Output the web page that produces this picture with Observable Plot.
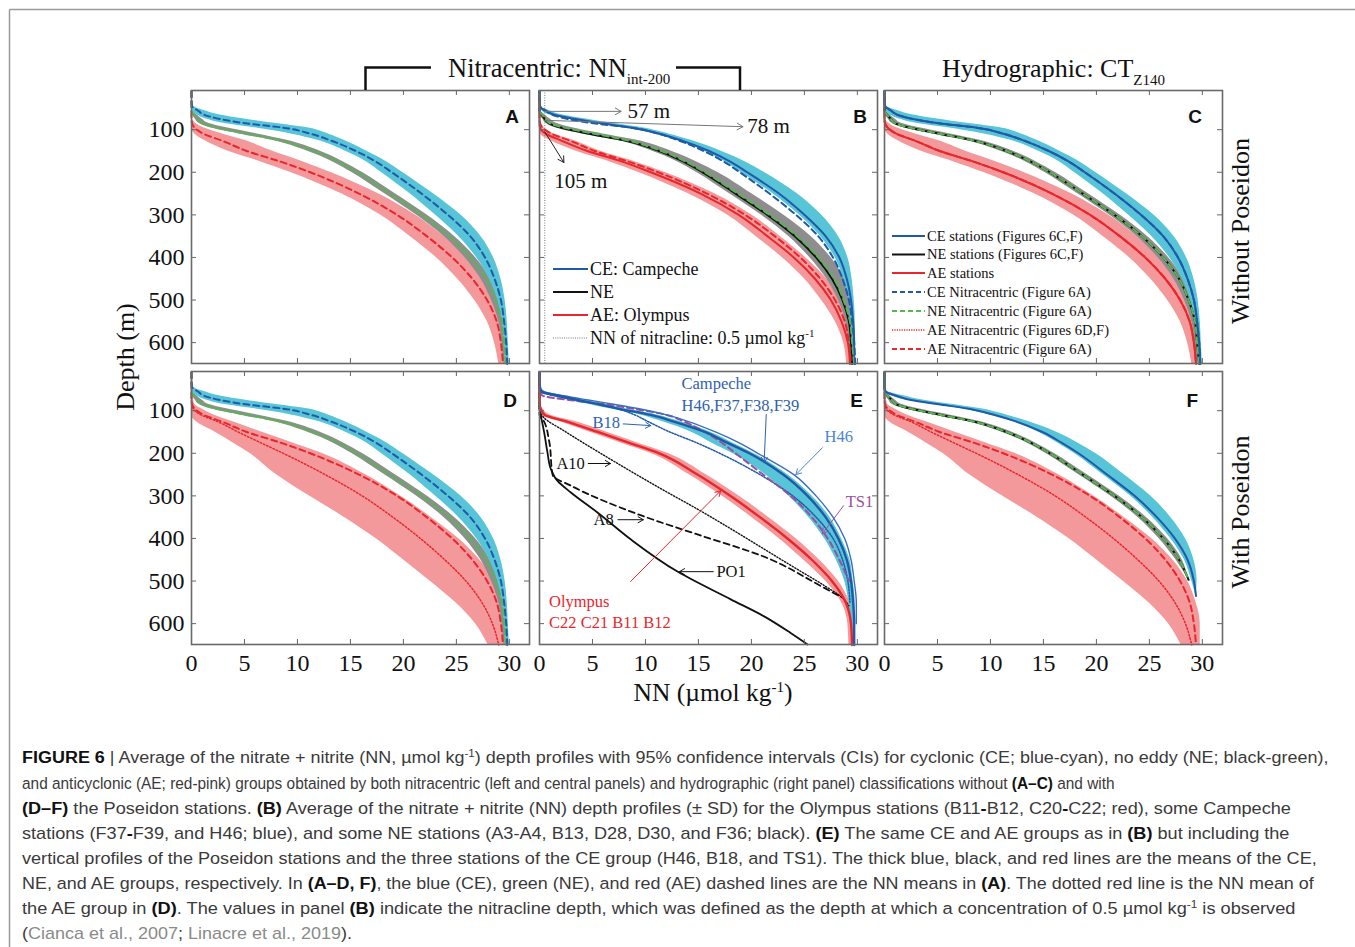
<!DOCTYPE html>
<html><head><meta charset="utf-8">
<script src="https://cdn.jsdelivr.net/npm/d3@7"></script>
<script src="https://cdn.jsdelivr.net/npm/@observablehq/plot@0.6"></script>
<style>
html,body{margin:0;padding:0;background:#fff;}
#root{position:relative;width:1355px;height:947px;overflow:hidden;background:#fff;}
#overlay{position:absolute;left:0;top:0;pointer-events:none;}
</style></head>
<body><div id="root"></div>
<script>
// ---------------- DATA ----------------
const Z = [10,30,45,55,65,75,85,95,110,125,150,175,200,250,300,350,400,450,500,550,600,650];
const xTicks = [0,5,10,15,20,25,30];
const yTicks = [100,200,300,400,500,600];

// Nitracentric means without Poseidon (A; same groups in C), with 95% CI
const ceA   = [0,0,0.06,0.6,1.2,2.7,5.1,8.6,11.3,13.1,15.5,17.4,18.9,21.7,24.2,26.3,27.7,28.6,29.2,29.5,29.7,29.8];
const ceAlo = [0,0,0,0.1,0.5,1.4,3.0,5.8,9.4,11.9,14.5,16.5,17.9,20.6,23.0,25.2,26.9,28.1,28.9,29.3,29.5,29.6];
const ceAhi = [0,0,0.2,1.2,2.6,5.0,7.8,10.8,12.9,14.4,16.5,18.4,19.9,22.8,25.4,27.3,28.5,29.2,29.6,29.8,29.9,30.0];
const neA   = [0,0,0,0,0.26,0.6,1.0,2.3,5.3,8.3,11.5,13.8,15.6,18.7,21.7,24.3,26.3,27.8,28.7,29.3,29.5,29.7];
const neAlo = [0,0,0,0,0.1,0.35,0.7,1.7,4.5,7.6,10.9,13.3,15.1,18.2,21.2,23.8,25.8,27.3,28.3,29.0,29.3,29.5];
const neAhi = [0,0,0,0.05,0.5,1.0,1.6,3.2,6.2,9.0,12.1,14.3,16.1,19.2,22.2,24.8,26.8,28.2,29.0,29.5,29.7,29.8];
const aeA   = [0,0,0,0,0,0,0.05,0.28,1.16,2.8,5.2,8.4,11.2,15.8,19.4,22.2,24.6,26.5,27.9,28.8,29.2,29.4];
const aeAlo = [0,0,0,0,0,0,0,0,0.3,1.2,3.4,6.5,9.3,14.1,17.8,20.6,23.1,25.1,26.7,27.9,28.6,29.0];
const aeAhi = [0,0,0,0,0,0.1,0.4,1.1,2.9,5.0,7.6,10.5,13.1,17.6,21.1,23.8,26.1,27.8,28.9,29.5,29.8,29.9];

// Panel B: Campeche / NE / Olympus (± SD)
const ceB   = [0,0,0.05,0.5,1.4,3.4,5.8,8.6,11.4,13.4,16.0,18.0,19.6,22.6,25.0,27.0,28.3,29.0,29.4,29.6,29.7,29.7];
const ceBlo = [0,0,0,0.2,0.9,2.7,5.0,7.9,10.8,12.9,15.5,17.5,19.0,22.0,24.5,26.5,27.9,28.7,29.2,29.4,29.5,29.5];
const ceBhi = [0,0,0.1,0.9,2.1,4.4,6.9,9.6,12.2,14.3,17.1,19.4,21.2,24.3,26.6,28.2,29.1,29.5,29.7,29.8,29.8,29.8];
const neB   = [0,0,0,0,0.2,0.5,0.9,2.0,4.8,8.0,11.3,13.6,15.4,18.5,21.5,24.1,26.1,27.6,28.6,29.2,29.4,29.5];
const neBlo = [0,0,0,0,0.05,0.3,0.6,1.4,4.0,7.3,10.6,13.0,14.8,17.9,20.9,23.5,25.5,27.1,28.2,28.9,29.2,29.3];
const neBhi = [0,0,0,0.1,0.5,1.0,1.6,3.0,6.0,9.2,12.4,14.8,16.8,20.0,23.0,25.6,27.5,28.8,29.4,29.7,29.8,29.8];
const aeB   = [0,0,0,0,0,0,0,0.05,0.6,2.0,4.5,7.8,10.5,15.2,18.8,21.5,24.0,26.0,27.5,28.5,29.1,29.3];
const aeBlo = [0,0,0,0,0,0,0,0,0.1,1.0,3.4,6.6,9.3,14.0,17.7,20.4,22.9,25.0,26.6,27.9,28.7,29.0];
const aeBhi = [0,0,0,0,0,0,0.1,0.4,1.4,3.2,5.7,9.0,11.8,16.5,20.0,22.7,25.1,27.1,28.4,29.2,29.5,29.6];
const nitraclineNN = 0.5;
const nitraclineDepths = [57, 78, 105];
const nitraclineLabels = ["57 m", "78 m", "105 m"];

// Panel D / F: AE with Poseidon
const aeD   = [0,0,0,0,0,0,0.05,0.15,0.9,2.4,4.4,6.5,8.65,12.6,16.1,19.0,21.6,23.9,25.9,27.4,28.4,29.0];
const aeDlo = [0,0,0,0,0,0,0,0,0,0.4,2.2,3.9,5.5,8.0,11.1,14.4,17.4,20.0,22.5,24.9,26.8,28.0];
const aeDhi = [0,0,0,0,0.1,0.2,0.3,0.9,2.1,3.8,6.6,9.5,12.3,16.4,19.7,22.6,25.2,27.2,28.6,29.4,29.8,29.8];

// Panel F: hydrographic CE / NE with Poseidon
const ZF_ce  = [10,30,45,55,65,75,85,95,110,125,150,175,200,250,300,350,400,450,500,535];
const ceF    = [0,0,0,0.1,1.1,2.5,5.1,7.8,10.4,12.4,14.9,16.7,18.3,21.0,23.6,25.7,27.4,28.6,29.2,29.4];
const ceFlo  = [0,0,0,0,0.6,2.0,4.5,7.2,9.9,12.0,14.5,16.3,17.9,20.6,23.2,25.3,27.0,28.3,29.0,29.4];
const ceFhi  = [0,0,0,0.3,1.8,3.6,6.3,9.0,11.5,13.5,16.2,18.2,19.9,22.6,25.1,27.0,28.4,29.2,29.5,29.4];
const ZF_ne  = [10,30,45,55,65,75,85,95,110,125,150,175,200,250,300,350,400,450,497];
const neF    = [0,0,0,0.05,0.3,0.7,1.1,2.4,5.3,8.3,11.5,13.8,15.6,18.7,21.7,24.3,26.3,27.8,28.7];
const neFlo  = [0,0,0,0,0.1,0.4,0.7,1.8,4.6,7.7,11.0,13.4,15.2,18.3,21.3,23.9,25.9,27.5,28.7];
const neFhi  = [0,0,0,0.1,0.5,1.0,1.6,3.1,6.1,8.9,12.0,14.2,16.0,19.1,22.1,24.7,26.7,28.1,28.7];

// Panel E: CE and AE groups incl. Poseidon + individual stations
const ceE   = [0,0,0.05,0.2,1.8,3.6,5.6,7.4,10.5,12.6,15.6,17.7,19.8,23.0,25.3,27.0,28.2,29.0,29.4,29.6,29.7,29.7];
const ceElo = [0,0,0,0.05,1.0,2.6,4.6,6.5,9.5,11.5,14.3,16.2,18.2,21.3,23.5,25.4,26.9,28.0,28.8,29.2,29.4,29.5];
const ceEhi = [0,0,0.1,0.5,2.3,4.2,6.2,8.0,11.1,13.2,16.1,18.2,20.2,23.4,25.7,27.4,28.5,29.3,29.6,29.8,29.8,29.8];
const aeE   = [0,0,0,0,0,0,0,0.1,0.5,2.5,5.5,8.4,11.3,14.9,18.0,20.8,23.4,25.7,27.6,28.9,29.4,29.5];
const aeElo = [0,0,0,0,0,0,0,0,0.15,1.8,4.7,7.6,10.5,14.1,17.2,20.0,22.6,24.9,27.0,28.5,29.1,29.2];
const aeEhi = [0,0,0,0,0,0,0.05,0.3,1.0,3.3,6.3,9.2,12.1,15.7,18.8,21.6,24.2,26.4,28.2,29.3,29.7,29.8];
const h46   = [0,0,0.05,0.4,2.3,4.6,7.0,9.3,12.0,14.0,16.6,18.8,20.6,24.0,26.1,27.7,28.8,29.4,29.7,29.9,29.9,null];
const b18   = [0,0,0,0,1.5,3.5,5.5,7.3,9.0,10.2,12.3,14.8,17.0,20.8,23.9,26.1,27.7,28.6,29.1,29.3,null,null];
const ts1   = [0,0,0,0,0.3,2.8,6.2,8.7,12.0,13.6,15.6,17.2,18.5,21.1,23.7,25.7,27.2,28.3,29.2,null,null,null];
const a10Z  = [10,95,116,147,214,288,331,378,425,472,511,542,558];
const a10   = [0,0,0.4,2.3,6.7,11.8,14.9,18.1,21.2,24.3,26.9,28.7,29.2];
const a8Z   = [10,110,124,170,252,276,346,393,440,511,534];
const a8    = [0,0,0.4,0.9,1.25,2.95,9.6,15.2,20.9,26.5,28.2];
const po1Z  = [10,96,112,151,198,237,265,292,339,402,479,543,583,622,649];
const po1   = [0,0,0.13,0.44,0.75,1.07,1.7,2.96,5.47,8.6,13.1,18.05,21.2,23.7,25.3];

// Panel E annotations (NN, depth)
const eLabels = [
  {x:13.4, y:37,  text:"Campeche",        c:"blue"},
  {x:13.4, y:88,  text:"H46,F37,F38,F39", c:"blue"},
  {x:5.0,  y:128, text:"B18",             c:"blue"},
  {x:26.9, y:161, text:"H46",             c:"lblue"},
  {x:28.9, y:314, text:"TS1",             c:"purple"},
  {x:1.6,  y:224, text:"A10",             c:"black"},
  {x:5.1,  y:356, text:"A8",              c:"black"},
  {x:16.7, y:478, text:"PO1",             c:"black"},
  {x:0.9,  y:548, text:"Olympus",         c:"red"},
  {x:0.9,  y:598, text:"C22 C21 B11 B12", c:"red"}
];
const eArrows = [
  {x1:21.4, y1:109, x2:21.2, y2:222, c:"blue"},
  {x1:7.9,  y1:131, x2:10.5, y2:135, c:"blue"},
  {x1:26.7, y1:187, x2:24.2, y2:250, c:"lblue"},
  {x1:28.7, y1:323, x2:26.7, y2:389, c:"purple"},
  {x1:4.6,  y1:224, x2:6.7,  y2:224, c:"black"},
  {x1:7.4,  y1:356, x2:9.8,  y2:356, c:"black"},
  {x1:16.4, y1:478, x2:13.2, y2:478, c:"black"},
  {x1:8.6,  y1:501, x2:17.1, y2:288, c:"red"}
];
const bArrowEnds = [{x:7.7, y:57}, {x:19.2, y:93}, {x:2.3, y:177}];
const bLabelPos  = [{x:8.3, y:57}, {x:19.6, y:93}, {x:3.9, y:220}];

// ---------------- STYLE ----------------
const COL = {cyan:"#57C4D8", blue:"#1F5AA8", gray:"#8E8E8E", black:"#111", green:"#58B650",
             pink:"#F4999B", red:"#E8262C", purple:"#9B4FA0", lblue:"#4A86CF", lbl:"#2F62B0"};
const SERIF = "'Liberation Serif','Times New Roman',serif";
const FW = 338, FH = 273;
const XDOM = [0, 31.9], YDOM = [8, 649];
const DASH = "6,4", DOT = "1.5,2";

const band = (lo, hi, z = Z) => z.map((d, i) => ({z: d, lo: lo[i], hi: hi[i]})).filter(d => d.lo != null && d.hi != null);
const prof = (v, z = Z) => z.map((d, i) => ({z: d, nn: v[i]})).filter(d => d.nn != null);
const area = (lo, hi, fill, z) => Plot.areaX(band(lo, hi, z), {y: "z", x1: "lo", x2: "hi", fill, curve: "monotone-y"});
const line = (v, stroke, opts = {}, z) => Plot.line(prof(v, z), {x: "nn", y: "z", stroke, strokeWidth: 2, curve: "monotone-y", ...opts});

const root = document.getElementById("root");

function panel(fx, fy, marks, {left = false, bottom = false} = {}) {
  const ML = left ? 80 : 2, MB = bottom ? 45 : 2, MT = 2, MR = 2;
  const axes = [];
  if (left) axes.push(Plot.axisY(yTicks, {anchor: "left", tickSize: 0, tickPadding: 7, label: null}));
  if (bottom) axes.push(Plot.axisX(xTicks, {anchor: "bottom", tickSize: 0, tickPadding: 9, label: null}));
  const svg = Plot.plot({
    width: FW + ML + MR, height: FH + MT + MB,
    marginLeft: ML, marginRight: MR, marginTop: MT, marginBottom: MB,
    x: bottom ? {domain: XDOM} : {domain: XDOM, axis: null},
    y: left ? {domain: YDOM, reverse: true} : {domain: YDOM, reverse: true, axis: null},
    style: {background: "transparent", overflow: "visible", fontFamily: SERIF, fontSize: "24px", color: "#111"},
    marks: [
      ...marks,
      Plot.tickX(xTicks, {x: d => d, insetTop: FH - 5, stroke: "#666"}),
      Plot.tickX(xTicks, {x: d => d, insetBottom: FH - 5, stroke: "#666"}),
      Plot.tickY(yTicks, {y: d => d, insetRight: FW - 5, stroke: "#666"}),
      Plot.tickY(yTicks, {y: d => d, insetLeft: FW - 5, stroke: "#666"}),
      Plot.frame({stroke: "#6a6a6a", strokeWidth: 1.6}),
      ...axes
    ]
  });
  svg.style.position = "absolute";
  svg.style.left = (fx - ML) + "px";
  svg.style.top = (fy - MT) + "px";
  root.appendChild(svg);
}

const ROW1 = 90, ROW2 = 370.5, COLA = 190.5, COLB = 538.5, COLC = 884;

// A
panel(COLA, ROW1, [
  area(aeAlo, aeAhi, COL.pink), area(neAlo, neAhi, COL.gray), area(ceAlo, ceAhi, COL.cyan),
  line(aeA, COL.red, {strokeDasharray: DASH}), line(neA, COL.green, {strokeDasharray: DASH}), line(ceA, COL.blue, {strokeDasharray: DASH})
], {left: true});

// B
const bIdx = [0, 1, 2];
panel(COLB, ROW1, [
  area(aeBlo, aeBhi, COL.pink), area(neBlo, neBhi, COL.gray), area(ceBlo, ceBhi, COL.cyan),
  Plot.ruleX([nitraclineNN], {stroke: "#777", strokeWidth: 1, strokeDasharray: "1,1.5"}),
  line(aeB, COL.red), line(neB, COL.black), line(ceB, COL.blue),
  line(aeA, COL.red, {strokeDasharray: DASH}), line(neA, COL.green, {strokeDasharray: DASH}), line(ceA, COL.blue, {strokeDasharray: DASH}),
  Plot.arrow(bIdx, {x1: () => nitraclineNN, y1: i => nitraclineDepths[i], x2: i => bArrowEnds[i].x, y2: i => bArrowEnds[i].y,
    stroke: i => i === 2 ? "#222" : "#777", strokeWidth: 1, headLength: 10}),
  Plot.text([0, 1], {x: i => bLabelPos[i].x, y: i => bLabelPos[i].y, text: i => nitraclineLabels[i],
    textAnchor: "start", fontSize: 21, fontFamily: SERIF, fill: "#111"}),
  Plot.text([2], {x: i => bLabelPos[i].x, y: i => bLabelPos[i].y, text: i => nitraclineLabels[i],
    textAnchor: "middle", fontSize: 21, fontFamily: SERIF, fill: "#111"})
]);

// C
panel(COLC, ROW1, [
  area(aeAlo, aeAhi, COL.pink), area(neAlo, neAhi, COL.gray), area(ceAlo, ceAhi, COL.cyan),
  line(aeA, COL.red), line(neA, COL.black), line(ceA, COL.blue),
  line(aeA, COL.red, {strokeDasharray: DASH}), line(neA, COL.green, {strokeDasharray: DASH}), line(ceA, COL.blue, {strokeDasharray: DASH})
]);

// D
panel(COLA, ROW2, [
  area(aeDlo, aeDhi, COL.pink), area(neAlo, neAhi, COL.gray), area(ceAlo, ceAhi, COL.cyan),
  line(aeD, COL.red, {strokeDasharray: DOT, strokeWidth: 1.5}),
  line(aeA, COL.red, {strokeDasharray: DASH}), line(neA, COL.green, {strokeDasharray: DASH}), line(ceA, COL.blue, {strokeDasharray: DASH})
], {left: true, bottom: true});

// E
const colOf = k => k === "blue" ? COL.lbl : k === "lblue" ? COL.lblue : k === "purple" ? COL.purple : k === "red" ? COL.red : "#111";
panel(COLB, ROW2, [
  area(aeElo, aeEhi, COL.pink), area(ceElo, ceEhi, COL.cyan),
  line(a10, "#111", {strokeDasharray: "1.2,1.8", strokeWidth: 1.4}, a10Z),
  line(a8, "#111", {strokeDasharray: DASH, strokeWidth: 1.8}, a8Z),
  line(po1, "#111", {strokeWidth: 1.8}, po1Z),
  line(b18, COL.blue, {strokeDasharray: "1.5,1.5", strokeWidth: 1.5}),
  line(ts1, COL.purple, {strokeDasharray: DASH, strokeWidth: 2}),
  line(h46, "#3A6FC0", {strokeWidth: 1.4}),
  line(aeE, COL.red, {strokeWidth: 2.4}),
  line(ceE, COL.blue, {strokeWidth: 2.4}),
  Plot.arrow(eArrows, {x1: "x1", y1: "y1", x2: "x2", y2: "y2", stroke: d => colOf(d.c), strokeWidth: 1, headLength: 9}),
  Plot.text(eLabels, {x: "x", y: "y", text: "text", fill: d => colOf(d.c), textAnchor: "start", fontSize: 16.5, fontFamily: SERIF})
], {bottom: true});

// F
panel(COLC, ROW2, [
  area(aeDlo, aeDhi, COL.pink), area(neFlo, neFhi, COL.gray, ZF_ne), area(ceFlo, ceFhi, COL.cyan, ZF_ce),
  line(aeD, COL.red, {strokeDasharray: DOT, strokeWidth: 1.5}),
  line(aeA, COL.red, {strokeDasharray: DASH}),
  line(neF, COL.black, {}, ZF_ne), line(neF, COL.green, {strokeDasharray: DASH}, ZF_ne),
  line(ceF, COL.blue, {}, ZF_ce)
], {bottom: true});

// ---------------- OVERLAY TEXT ----------------
const ns = "http://www.w3.org/2000/svg";
const ov = document.createElementNS(ns, "svg");
ov.setAttribute("id", "overlay"); ov.setAttribute("width", 1355); ov.setAttribute("height", 947);
const serifT = `font-family="Liberation Serif, Times New Roman, serif" fill="#111"`;
const sans = `font-family="Liberation Sans, Arial, sans-serif"`;

function legendRows(x0, x1, tx, rows, fs) {
  return rows.map(r => `<line x1="${x0}" x2="${x1}" y1="${r.y}" y2="${r.y}" stroke="${r.c}" stroke-width="${r.w || 2}" ${r.d ? `stroke-dasharray="${r.d}"` : ""}/>
    <text x="${tx}" y="${r.y + fs * 0.33}" font-size="${fs}" ${serifT}>${r.t}</text>`).join("");
}
const legB = legendRows(553, 588, 590, [
  {y: 269, c: COL.blue, t: "CE: Campeche"},
  {y: 292, c: "#111", t: "NE"},
  {y: 315, c: COL.red, t: "AE: Olympus"},
  {y: 338, c: "#777", w: 1.2, d: "1,1.2", t: `NN of nitracline: 0.5 µmol kg<tspan dy="-7" font-size="11">-1</tspan>`}
], 18);
const legC = legendRows(892, 925, 927, [
  {y: 236, c: COL.blue, t: "CE stations (Figures 6C,F)"},
  {y: 254.5, c: "#111", t: "NE stations (Figures 6C,F)"},
  {y: 273, c: COL.red, t: "AE stations"},
  {y: 292, c: COL.blue, d: "5,3", t: "CE Nitracentric (Figure 6A)"},
  {y: 311, c: COL.green, d: "5,3", t: "NE Nitracentric (Figure 6A)"},
  {y: 330, c: COL.red, w: 1.5, d: "1.2,1.2", t: "AE Nitracentric (Figures 6D,F)"},
  {y: 349, c: COL.red, d: "5,3", t: "AE Nitracentric (Figure 6A)"}
], 14.5);

const letters = [["A",519,123],["B",867,123],["C",1202,123],["D",517,407],["E",863,407],["F",1198,407]]
  .map(([t,x,y]) => `<text x="${x}" y="${y}" text-anchor="end" font-size="19" font-weight="bold" ${sans} fill="#111">${t}</text>`).join("");

const B = t => `<tspan font-weight="bold" fill="#111">${t}</tspan>`;
const capLines = [
  `${B("FIGURE 6")} | Average of the nitrate + nitrite (NN, µmol kg<tspan dy="-6" font-size="11">-1</tspan><tspan dy="6">) depth profiles with 95% confidence intervals (CIs) for cyclonic (CE; blue-cyan), no eddy (NE; black-green),</tspan>`,
  `and anticyclonic (AE; red-pink) groups obtained by both nitracentric (left and central panels) and hydrographic (right panel) classifications without ${B("(A–C)")} and with`,
  `${B("(D–F)")} the Poseidon stations. ${B("(B)")} Average of the nitrate + nitrite (NN) depth profiles (± SD) for the Olympus stations (B11${B("-")}B12, C20${B("-")}C22; red), some Campeche`,
  `stations (F37${B("-")}F39, and H46; blue), and some NE stations (A3-A4, B13, D28, D30, and F36; black). ${B("(E)")} The same CE and AE groups as in ${B("(B)")} but including the`,
  `vertical profiles of the Poseidon stations and the three stations of the CE group (H46, B18, and TS1). The thick blue, black, and red lines are the means of the CE,`,
  `NE, and AE groups, respectively. In ${B("(A–D, F)")}, the blue (CE), green (NE), and red (AE) dashed lines are the NN means in ${B("(A)")}. The dotted red line is the NN mean of`,
  `the AE group in ${B("(D)")}. The values in panel ${B("(B)")} indicate the nitracline depth, which was defined as the depth at which a concentration of 0.5 µmol kg<tspan dy="-6" font-size="11">-1</tspan><tspan dy="6"> is observed</tspan>`,
  `(<tspan fill="#8a8a8a">Cianca et al., 2007</tspan>; <tspan fill="#8a8a8a">Linacre et al., 2019</tspan>).`
];
const capWidths = [1307, 1093, 1270, 1268, 1296, 1292, 1274, 330];
const capBase = [763, 789, 814, 839, 864, 889, 914, 939];
const caption = capLines.map((t, i) => `<g class="capline"><text x="0" y="${capBase[i]}" font-size="17" ${sans} fill="#3a3a3a">${t}</text></g>`).join("");

ov.innerHTML = `
  <line x1="9.5" y1="9.5" x2="1355" y2="9.5" stroke="#9a9a9a" stroke-width="1.5"/>
  <line x1="9.5" y1="9.5" x2="9.5" y2="947" stroke="#9a9a9a" stroke-width="1.5"/>
  <path d="M365.5,90 V67.5 H431" fill="none" stroke="#111" stroke-width="2.5"/>
  <path d="M676,67.5 H740 V90" fill="none" stroke="#111" stroke-width="2.5"/>
  <text x="448" y="77" font-size="26.5" ${serifT}>Nitracentric: NN<tspan font-size="15" dy="7">int-200</tspan></text>
  <text x="942" y="77" font-size="26" ${serifT}>Hydrographic: CT<tspan font-size="15" dy="8">Z140</tspan></text>
  <text transform="translate(134,357) rotate(-90)" text-anchor="middle" font-size="26" ${serifT}>Depth (m)</text>
  <text x="713" y="701" text-anchor="middle" font-size="25.5" ${serifT}>NN (µmol kg<tspan dy="-9" font-size="15">-1</tspan><tspan dy="9">)</tspan></text>
  <text transform="translate(1249,231) rotate(-90)" text-anchor="middle" font-size="26" ${serifT}>Without Poseidon</text>
  <text transform="translate(1249,512) rotate(-90)" text-anchor="middle" font-size="26" ${serifT}>With Poseidon</text>
  ${letters}${legB}${legC}${caption}`;
root.appendChild(ov);

// fit each caption line to the width it occupies in the reference
ov.querySelectorAll(".capline").forEach((g, i) => {
  const len = g.querySelector("text").getComputedTextLength();
  const s = len > 0 ? capWidths[i] / len : 1;
  g.setAttribute("transform", `translate(22,0) scale(${s},1)`);
});
</script>
</body></html>
